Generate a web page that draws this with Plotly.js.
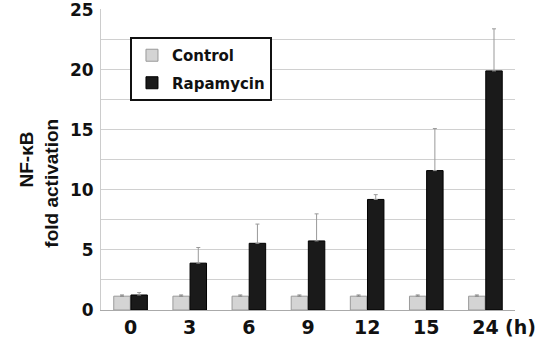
<!DOCTYPE html>
<html>
<head>
<meta charset="utf-8">
<script src="https://cdn.plot.ly/plotly-3.0.1.min.js"></script>
<style>html,body{margin:0;padding:0;background:#fff;}#chart{width:535px;height:343px;}</style>
</head>
<body>
<div id="chart"></div>
<script>
const categories = ['0', '3', '6', '9', '12', '15', '24'];
const controlValues = [1.15, 1.15, 1.15, 1.15, 1.15, 1.15, 1.15];
const controlErrors = [0.1, 0.1, 0.1, 0.1, 0.1, 0.1, 0.1];
const rapamycinValues = [1.25, 3.9, 5.55, 5.75, 9.2, 11.6, 19.9];
const rapamycinErrors = [0.2, 1.3, 1.6, 2.25, 0.4, 3.5, 3.5];
const tickValues = [0, 2.5, 5, 7.5, 10, 12.5, 15, 17.5, 20, 22.5, 25];
const tickLabels = ['0', '', '5', '', '10', '', '15', '', '20', '', '25'];

const wide = 'DejaVu Sans, Verdana, sans-serif';
const narrow = 'Liberation Sans, Arial, sans-serif';
const pad = '\u00A0'.repeat(9) + '\u200B';

const traces = [
  {
    type: 'bar', name: 'Control', legendgroup: 'c', x: categories, y: controlValues,
    marker: {color: '#d4d4d4', line: {color: '#9a9a9a', width: 1}},
    error_y: {type: 'data', symmetric: false, array: controlErrors, arrayminus: controlErrors.map(() => 0),
              color: '#888', thickness: 1, width: 2}
  },
  {
    type: 'bar', name: 'Rapamycin', legendgroup: 'r', x: categories, y: rapamycinValues,
    marker: {color: '#1a1a1a', line: {color: '#000', width: 1}},
    error_y: {type: 'data', symmetric: false, array: rapamycinErrors, arrayminus: rapamycinErrors.map(() => 0),
              color: '#999', thickness: 1, width: 2}
  }
];

const layout = {
  width: 535, height: 343,
  margin: {l: 101, r: 20, t: 9, b: 33},
  paper_bgcolor: '#fff', plot_bgcolor: '#fff',
  barmode: 'group', bargap: 0.42, bargroupgap: 0.04,
  showlegend: true,
  legend: {
    x: 0.07, y: 0.907, xanchor: 'left', yanchor: 'top',
    bordercolor: '#111', borderwidth: 2, bgcolor: '#fff',
    font: {family: wide, size: 15, color: '#111', weight: 'bold'},
    itemwidth: 30, traceorder: 'grouped', tracegroupgap: 5
  },
  xaxis: {
    type: 'category', showgrid: false, zeroline: false,
    showline: true, linecolor: '#aaa', linewidth: 1,
    ticks: '', tickfont: {family: wide, size: 19, color: '#111', weight: 'bold'}
  },
  yaxis: {
    range: [0, 25.05], tickvals: tickValues, ticktext: tickLabels,
    showgrid: true, gridcolor: '#d0d0d0', gridwidth: 1,
    showline: true, linecolor: '#ccc', linewidth: 1, zeroline: false,
    ticks: '', ticklabelstandoff: 3, ticklabeloverflow: 'allow',
    tickfont: {family: wide, size: 17, color: '#111', weight: 'bold'},
    title: {text: 'NF-κB<br>fold activation' + pad, standoff: 6,
            font: {family: narrow, size: 19, color: '#111', weight: 'bold'}}
  },
  annotations: [{
    text: '(h)', xref: 'paper', yref: 'paper', x: 0.971, y: -0.0565,
    xanchor: 'left', yanchor: 'middle', showarrow: false,
    font: {family: wide, size: 19, color: '#111', weight: 'bold'}
  }]
};

Plotly.newPlot('chart', traces, layout, {displayModeBar: false, staticPlot: true});
</script>
</body>
</html>
